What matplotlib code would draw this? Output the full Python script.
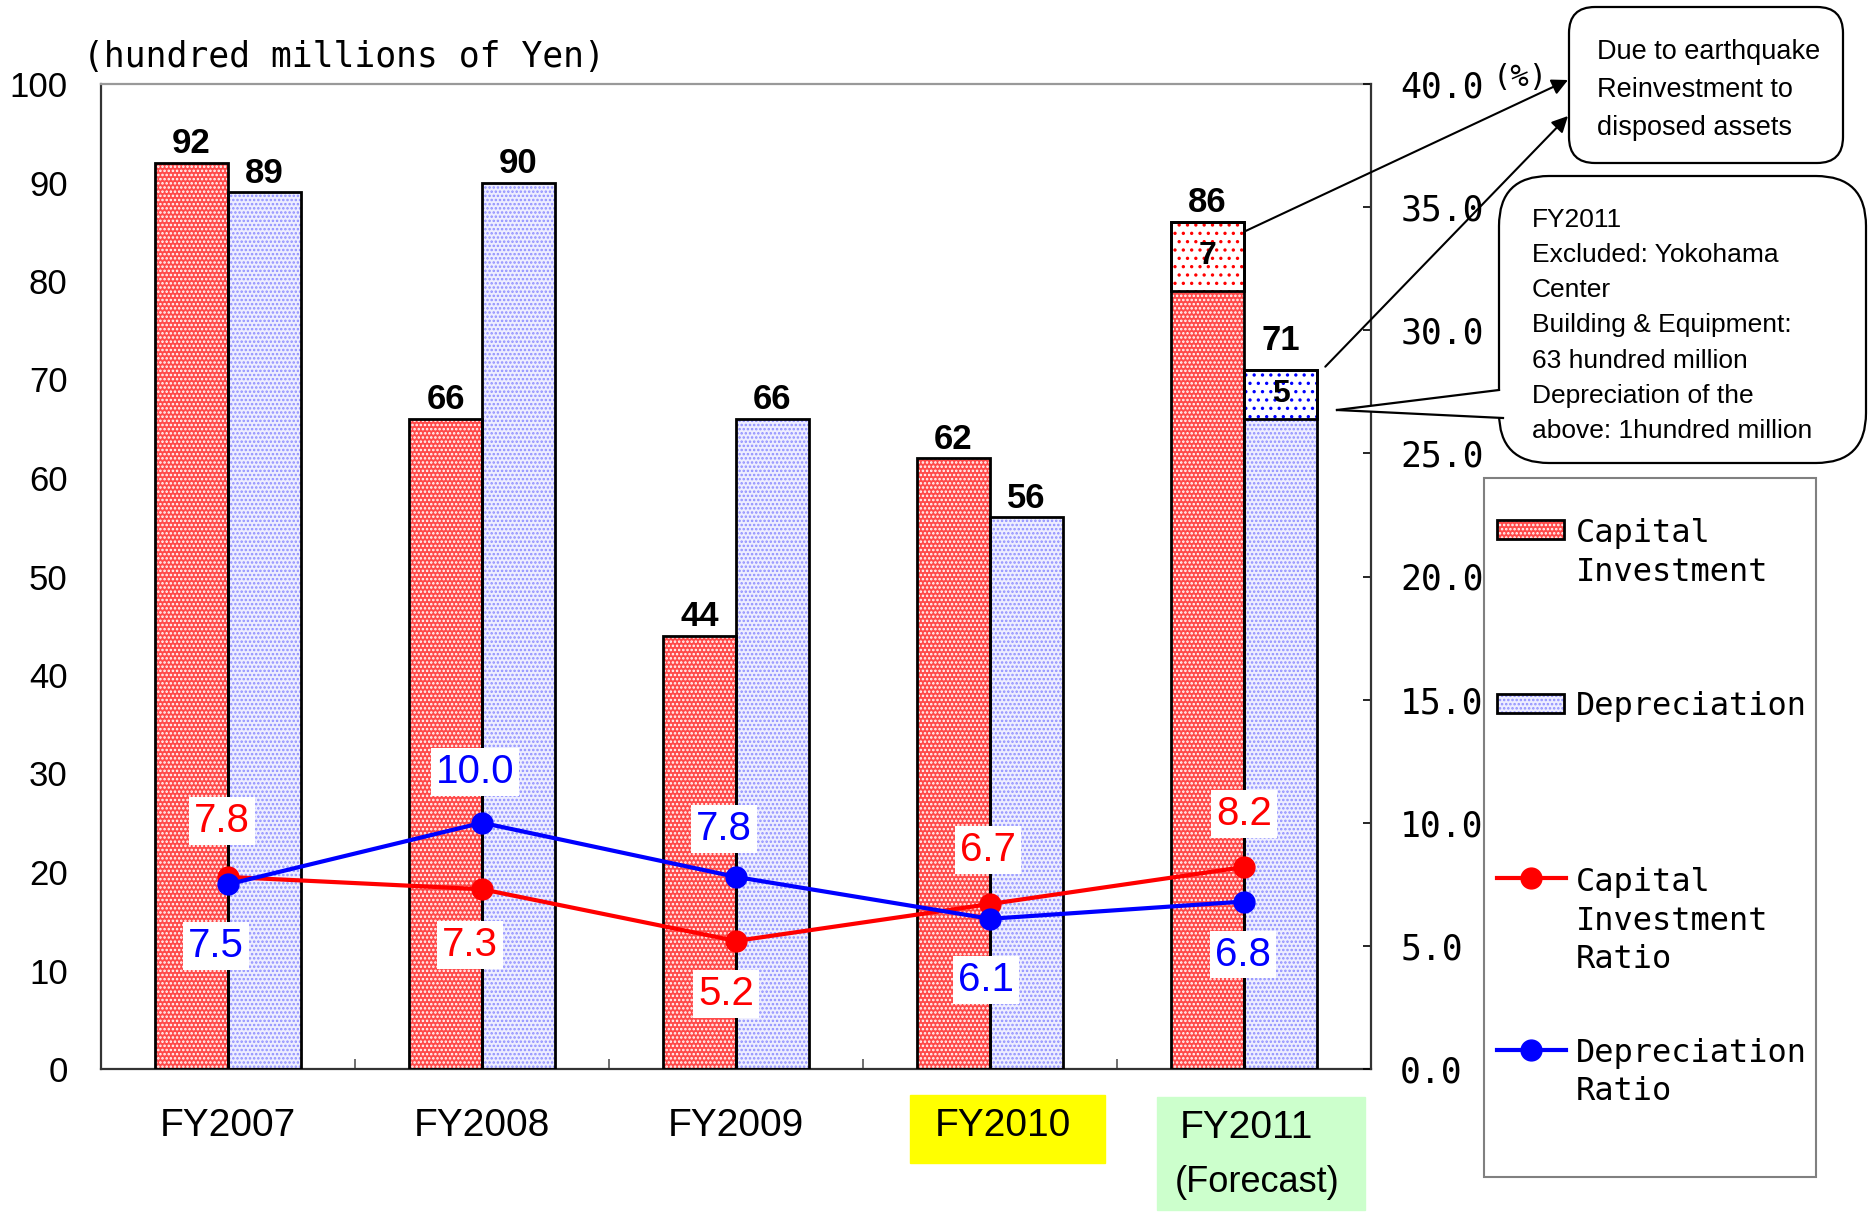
import matplotlib
matplotlib.use("Agg")
import matplotlib.pyplot as plt
import matplotlib.transforms as mtransforms
from matplotlib.patches import Rectangle, FancyBboxPatch, Polygon, ConnectionPatch
from matplotlib.lines import Line2D
import numpy as np

# ---- data (hundred millions of Yen / %) ----
years = ["FY2007", "FY2008", "FY2009", "FY2010", "FY2011"]
capital_investment = [92, 66, 44, 62, 86]
capital_quake = [0, 0, 0, 0, 7]          # earthquake reinvestment share
depreciation = [89, 90, 66, 56, 71]
depreciation_quake = [0, 0, 0, 0, 5]
capital_ratio = [7.8, 7.3, 5.2, 6.7, 8.2]
depreciation_ratio = [7.5, 10.0, 7.8, 6.1, 6.8]
left_ticks = [0, 10, 20, 30, 40, 50, 60, 70, 80, 90, 100]
right_ticks = [0.0, 5.0, 10.0, 15.0, 20.0, 25.0, 30.0, 35.0, 40.0]

# ---- styling ----
W, H, DPI = 1870, 1212, 100
RED = "#ff0000"
BLUE = "#0000ff"
MONO = "DejaVu Sans Mono"
SANS = "Liberation Sans"
plt.rcParams["hatch.linewidth"] = 1.2

fig = plt.figure(figsize=(W / DPI, H / DPI), dpi=DPI)
PX = fig.dpi_scale_trans


def P(px, py):
    """pixel position (origin top-left) -> inches for dpi_scale_trans"""
    return (px / DPI, (H - py) / DPI)


ax = fig.add_axes([101 / W, 1 - 1069 / H, (1371 - 101) / W, (1069 - 84) / H])
ax.set_xlim(-0.5, len(years) - 0.5)
ax.set_ylim(0, 100)
ax2 = ax.twinx()
ax2.set_ylim(0, 40)

x = np.arange(len(years))
bw = 0.287
cap = np.array(capital_investment)
capq = np.array(capital_quake)
dep = np.array(depreciation)
depq = np.array(depreciation_quake)
xr = x - bw / 2
xb = x + bw / 2
mc = capq > 0
md = depq > 0

# bar fills
ax.bar(xr, cap - capq, bw, color="#ff4a4a", edgecolor="white", hatch="....", lw=0, zorder=2)
ax.bar(xb, dep - depq, bw, color="#eeeeff", edgecolor="#8f8fff", hatch="....", lw=0, zorder=2)
ax.bar(xr[mc], capq[mc], bw, bottom=(cap - capq)[mc], color="white", edgecolor=RED,
       hatch="..", lw=0, zorder=2)
ax.bar(xb[md], depq[md], bw, bottom=(dep - depq)[md], color="white", edgecolor=BLUE,
       hatch="..", lw=0, zorder=2)
# bar outlines
ax.bar(xr, cap, bw, fill=False, edgecolor="black", lw=2, zorder=3)
ax.bar(xb, dep, bw, fill=False, edgecolor="black", lw=2, zorder=3)
ax.bar(xr[mc], capq[mc], bw, bottom=(cap - capq)[mc], fill=False, edgecolor="black", lw=2, zorder=3)
ax.bar(xb[md], depq[md], bw, bottom=(dep - depq)[md], fill=False, edgecolor="black", lw=2, zorder=3)

# bar value labels (the forecast depreciation label sits a little higher)
dep_lift = [2, 2, 2, 2, 9]
for i in range(len(years)):
    ax.annotate(f"{cap[i]}", (xr[i], cap[i]), xytext=(0, 2), textcoords="offset points",
                ha="center", va="bottom", fontsize=25, fontweight="bold", family=SANS)
    ax.annotate(f"{dep[i]}", (xb[i], dep[i]), xytext=(0, dep_lift[i]), textcoords="offset points",
                ha="center", va="bottom", fontsize=25, fontweight="bold", family=SANS)
for i in np.where(mc)[0]:
    ax.text(xr[i], cap[i] - capq[i] / 2, f"{capq[i]}", ha="center", va="center",
            fontsize=23, fontweight="bold", family=SANS, zorder=4)
for i in np.where(md)[0]:
    ax.text(xb[i], dep[i] - depq[i] / 2, f"{depq[i]}", ha="center", va="center",
            fontsize=23, fontweight="bold", family=SANS, zorder=4)

# ratio lines
ax2.plot(x, capital_ratio, color=RED, lw=3, marker="o", ms=15, zorder=4)
ax2.plot(x, depreciation_ratio, color=BLUE, lw=3, marker="o", ms=15, zorder=4)
cap_off = [(-6, 56), (-12, -56), (-10, -53), (-2, 54), (0, 53)]
dep_off = [(-12, -62), (-7, 51), (-12, 48), (-4, -61), (-1, -53)]
for vals, offs, col in ((capital_ratio, cap_off, RED), (depreciation_ratio, dep_off, BLUE)):
    for i, v in enumerate(vals):
        ax2.annotate(f"{v:.1f}", (x[i], v), xytext=offs[i], textcoords="offset pixels",
                     ha="center", va="center", color=col, fontsize=29, family=SANS,
                     bbox=dict(boxstyle="square,pad=0.12", fc="white", ec="none"), zorder=6)

# axes styling
for s in ("left", "bottom"):
    ax.spines[s].set_color("#333333")
    ax.spines[s].set_linewidth(1.6)
ax.spines["top"].set_color("#999999")
ax.spines["top"].set_linewidth(1.6)
ax.spines["right"].set_visible(False)
for s in ("left", "bottom", "top"):
    ax2.spines[s].set_visible(False)
ax2.spines["right"].set_color("#333333")
ax2.spines["right"].set_linewidth(1.6)

ax.set_yticks(left_ticks)
ax.set_yticklabels([str(t) for t in left_ticks], family=SANS, fontsize=25)
ax.tick_params(axis="y", length=0, pad=24)
ax2.set_yticks(right_ticks)
ax2.set_yticklabels([f"{t:.1f}" for t in right_ticks], family=MONO, fontsize=25)
ax2.tick_params(axis="y", direction="in", length=6, width=1.2, pad=21)
ax.set_xticks([])
ax.set_xticks(x[:-1] + 0.5, minor=True)
ax.tick_params(axis="x", which="minor", direction="in", length=7, width=1.2, color="#555555")

# category labels
trans = mtransforms.blended_transform_factory(ax.transData, PX)
label_shift = [0, 0, 0, 0.05, 0.01]
for i, name in enumerate(years):
    yy = 1126 if i < len(years) - 1 else 1128
    ax.text(x[i] + label_shift[i], (H - yy) / DPI, name, transform=trans, ha="center",
            va="center", fontsize=28, family=SANS, clip_on=False)
ax.text(x[-1] + 0.05, (H - 1183) / DPI, "(Forecast)", transform=trans, ha="center",
        va="center", fontsize=26, family=SANS, clip_on=False)
fig.add_artist(Rectangle(P(910, 1163), 195 / DPI, 68 / DPI, transform=PX,
                         color="#ffff00", zorder=-1))
fig.add_artist(Rectangle(P(1157, 1210), 208 / DPI, 113 / DPI, transform=PX,
                         color="#ccffcc", zorder=-1))

# unit labels
fig.text(*P(83, 57), "(hundred millions of Yen)", transform=PX, ha="left", va="center",
         fontsize=25, family=MONO)
fig.text(*P(1493, 77), "(%)", transform=PX, ha="left", va="center", fontsize=22, family=MONO)

# callout 1
fig.add_artist(FancyBboxPatch(P(1569, 163), (1843 - 1569) / DPI, (163 - 7) / DPI,
                              boxstyle="round,pad=0,rounding_size=0.26", transform=PX,
                              fc="white", ec="black", lw=1.6, zorder=3))
for yy, line in zip((49, 87, 125), ("Due to earthquake", "Reinvestment to", "disposed assets")):
    fig.text(*P(1597, yy), line, transform=PX, ha="left", va="center_baseline",
             fontsize=19.5, family=SANS, zorder=4)
fig.add_artist(ConnectionPatch(xyA=(4.0, 85), coordsA=ax.transData,
                               xyB=P(1568, 80), coordsB=PX, arrowstyle="-|>",
                               mutation_scale=24, lw=1.5, color="black", zorder=5))
fig.add_artist(ConnectionPatch(xyA=(4.32, 71.3), coordsA=ax.transData,
                               xyB=P(1568, 116), coordsB=PX, arrowstyle="-|>",
                               mutation_scale=24, lw=1.5, color="black", zorder=5))

# callout 2 (speech bubble pointing at the depreciation segment)
fig.add_artist(FancyBboxPatch(P(1499, 463), (1866 - 1499) / DPI, (463 - 176) / DPI,
                              boxstyle="round,pad=0,rounding_size=0.5", transform=PX,
                              fc="white", ec="black", lw=1.6, zorder=3))
tip, b1, b2 = P(1337, 410), P(1499, 390), P(1503, 418)
fig.add_artist(Polygon([tip, (b1[0] + 0.04, b1[1]), (b2[0] + 0.04, b2[1])], closed=True,
                       transform=PX, fc="white", ec="none", zorder=3.5))
fig.add_artist(Line2D([tip[0], b1[0]], [tip[1], b1[1]], transform=PX, color="black", lw=1.6, zorder=3.6))
fig.add_artist(Line2D([tip[0], b2[0]], [tip[1], b2[1]], transform=PX, color="black", lw=1.6, zorder=3.6))
note_lines = ["FY2011", "Excluded: Yokohama", "Center", "Building & Equipment:",
              "63 hundred million", "Depreciation of the", "above: 1hundred million"]
for k, line in enumerate(note_lines):
    fig.text(*P(1532, 217 + 35.3 * k), line, transform=PX, ha="left", va="center_baseline",
             fontsize=19, family=SANS, zorder=4)

# legend
fig.add_artist(Rectangle(P(1484, 1177), 332 / DPI, 699 / DPI, transform=PX,
                         fc="white", ec="#808080", lw=1.5, zorder=1))
fig.add_artist(Rectangle(P(1497, 539), 67 / DPI, 19 / DPI, transform=PX, fc="#ff4a4a",
                         ec="white", hatch="....", lw=0, zorder=2))
fig.add_artist(Rectangle(P(1497, 539), 67 / DPI, 19 / DPI, transform=PX, fill=False,
                         ec="black", lw=2, zorder=2.1))
fig.add_artist(Rectangle(P(1497, 713), 67 / DPI, 19 / DPI, transform=PX, fc="#eeeeff",
                         ec="#8f8fff", hatch="....", lw=0, zorder=2))
fig.add_artist(Rectangle(P(1497, 713), 67 / DPI, 19 / DPI, transform=PX, fill=False,
                         ec="black", lw=2, zorder=2.1))
for yy, col in ((878, RED), (1050, BLUE)):
    fig.add_artist(Line2D([1497 / DPI, 1566 / DPI], [(H - yy) / DPI] * 2, transform=PX,
                          color=col, lw=3, zorder=2))
    fig.add_artist(Line2D([1531 / DPI], [(H - yy) / DPI], transform=PX, color=col,
                          marker="o", ms=15, lw=0, zorder=2.1))
legend_text = [(530, "Capital"), (569, "Investment"), (703, "Depreciation"),
               (879, "Capital"), (918, "Investment"), (956, "Ratio"),
               (1050, "Depreciation"), (1088, "Ratio")]
for yy, t in legend_text:
    fig.text(*P(1576, yy), t, transform=PX, ha="left", va="center_baseline",
             fontsize=23, family=MONO, zorder=3)

fig.savefig("out.png", dpi=DPI)
